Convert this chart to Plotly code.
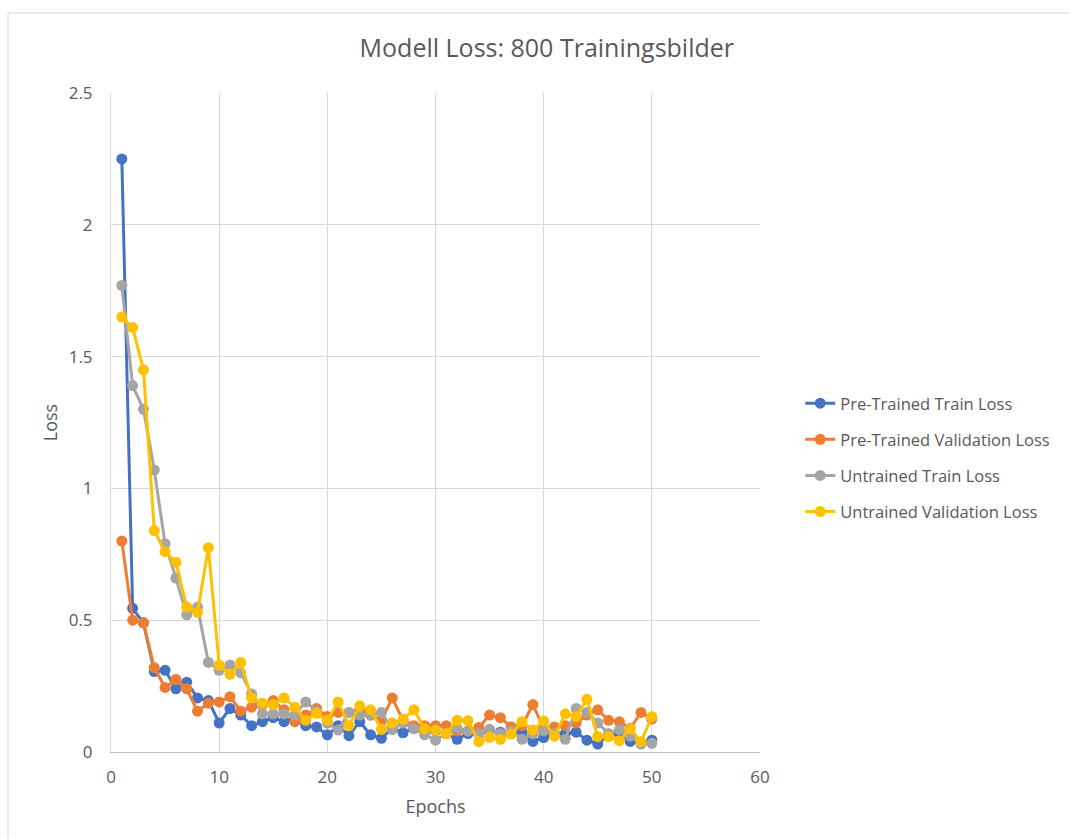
import plotly.graph_objects as go

epochs = list(range(1, 51))

pre_train = [2.25, 0.545, 0.49, 0.305, 0.31, 0.24, 0.265, 0.205, 0.195, 0.11,
             0.165, 0.14, 0.10, 0.115, 0.13, 0.115, 0.13, 0.10, 0.095, 0.065,
             0.10, 0.062, 0.115, 0.065, 0.052, 0.09, 0.073, 0.09, 0.08, 0.08,
             0.07, 0.048, 0.07, 0.07, 0.08, 0.075, 0.07, 0.075, 0.04, 0.055,
             0.07, 0.07, 0.075, 0.045, 0.03, 0.065, 0.07, 0.04, 0.035, 0.045]

pre_val = [0.80, 0.50, 0.49, 0.32, 0.245, 0.275, 0.24, 0.155, 0.185, 0.19,
           0.21, 0.155, 0.17, 0.18, 0.195, 0.16, 0.115, 0.14, 0.165, 0.135,
           0.15, 0.15, 0.16, 0.14, 0.12, 0.205, 0.12, 0.10, 0.10, 0.10,
           0.10, 0.08, 0.08, 0.093, 0.14, 0.13, 0.095, 0.10, 0.18, 0.09,
           0.095, 0.10, 0.11, 0.14, 0.16, 0.12, 0.115, 0.09, 0.15, 0.125]

un_train = [1.77, 1.39, 1.30, 1.07, 0.79, 0.66, 0.52, 0.55, 0.34, 0.31,
            0.33, 0.30, 0.22, 0.145, 0.145, 0.145, 0.14, 0.19, 0.155, 0.11,
            0.083, 0.15, 0.14, 0.14, 0.15, 0.085, 0.11, 0.088, 0.065, 0.045,
            0.07, 0.09, 0.08, 0.07, 0.086, 0.07, 0.08, 0.048, 0.07, 0.08,
            0.07, 0.048, 0.165, 0.15, 0.11, 0.07, 0.085, 0.06, 0.03, 0.033]

un_val = [1.65, 1.61, 1.45, 0.84, 0.76, 0.72, 0.55, 0.53, 0.775, 0.33,
          0.295, 0.34, 0.205, 0.185, 0.18, 0.205, 0.17, 0.12, 0.147, 0.12,
          0.19, 0.10, 0.175, 0.16, 0.086, 0.11, 0.124, 0.16, 0.088, 0.083,
          0.07, 0.12, 0.119, 0.039, 0.056, 0.048, 0.068, 0.115, 0.083, 0.118,
          0.06, 0.145, 0.134, 0.20, 0.058, 0.058, 0.043, 0.088, 0.039, 0.134]

series_names = ["Pre-Trained Train Loss", "Pre-Trained Validation Loss",
                "Untrained Train Loss", "Untrained Validation Loss"]
series_values = [pre_train, pre_val, un_train, un_val]
colors = ["#4472C4", "#ED7D31", "#A5A5A5", "#FFC000"]

x_ticks = [0, 10, 20, 30, 40, 50, 60]
y_ticks = [0, 0.5, 1, 1.5, 2, 2.5]
y_tick_text = ["0", "0.5", "1", "1.5", "2", "2.5"]

fig = go.Figure()
for i, (name, vals, col) in enumerate(zip(series_names, series_values, colors)):
    fig.add_trace(go.Scatter(
        x=epochs, y=vals, mode="lines+markers", name=name,
        line=dict(color=col, width=3),
        marker=dict(color=col, size=11),
        legendgroup=f"g{i}",
    ))

FONT = "Open Sans, Liberation Sans, sans-serif"
fig.update_layout(
    width=1069, height=839,
    margin=dict(l=111, r=309, t=93, b=87),
    paper_bgcolor="white", plot_bgcolor="white",
    font=dict(family=FONT, color="#595959", size=16),
    title=dict(text="Modell Loss: 800 Trainingsbilder", x=0.5115, xanchor="center",
               y=1 - 48 / 839, yanchor="middle",
               font=dict(size=25, color="#595959", family=FONT)),
    showlegend=True,
    legend=dict(x=1.062, xanchor="left", y=0.447, yanchor="middle",
                font=dict(size=16.5, color="#595959", family=FONT),
                tracegroupgap=11.7, bgcolor="rgba(0,0,0,0)"),
    xaxis=dict(range=[0, 60], tickvals=x_ticks, showgrid=True,
               gridcolor="#D9D9D9", gridwidth=1, zeroline=False,
               showline=True, linecolor="#BFBFBF", linewidth=1,
               ticks="", ticklabelstandoff=10,
               tickfont=dict(size=17, color="#595959"),
               title=dict(text="Epochs", font=dict(size=18, color="#595959"), standoff=12)),
    yaxis=dict(range=[0, 2.5], tickvals=y_ticks, ticktext=y_tick_text, showgrid=True,
               gridcolor="#D9D9D9", gridwidth=1, zeroline=False,
               showline=True, linecolor="#D9D9D9", linewidth=1,
               ticks="", ticklabelstandoff=14,
               tickfont=dict(size=17, color="#595959"),
               title=dict(text="Loss", font=dict(size=18, color="#595959"), standoff=6)),
)

fig.add_shape(type="rect", xref="paper", yref="paper",
              x0=(8 - 111) / 649, x1=(1080 - 111) / 649,
              y0=(752 - 850) / 659, y1=(752 - 13) / 659,
              line=dict(color="#D9D9D9", width=1), fillcolor="rgba(0,0,0,0)", layer="below")

fig.write_html("out.html")
